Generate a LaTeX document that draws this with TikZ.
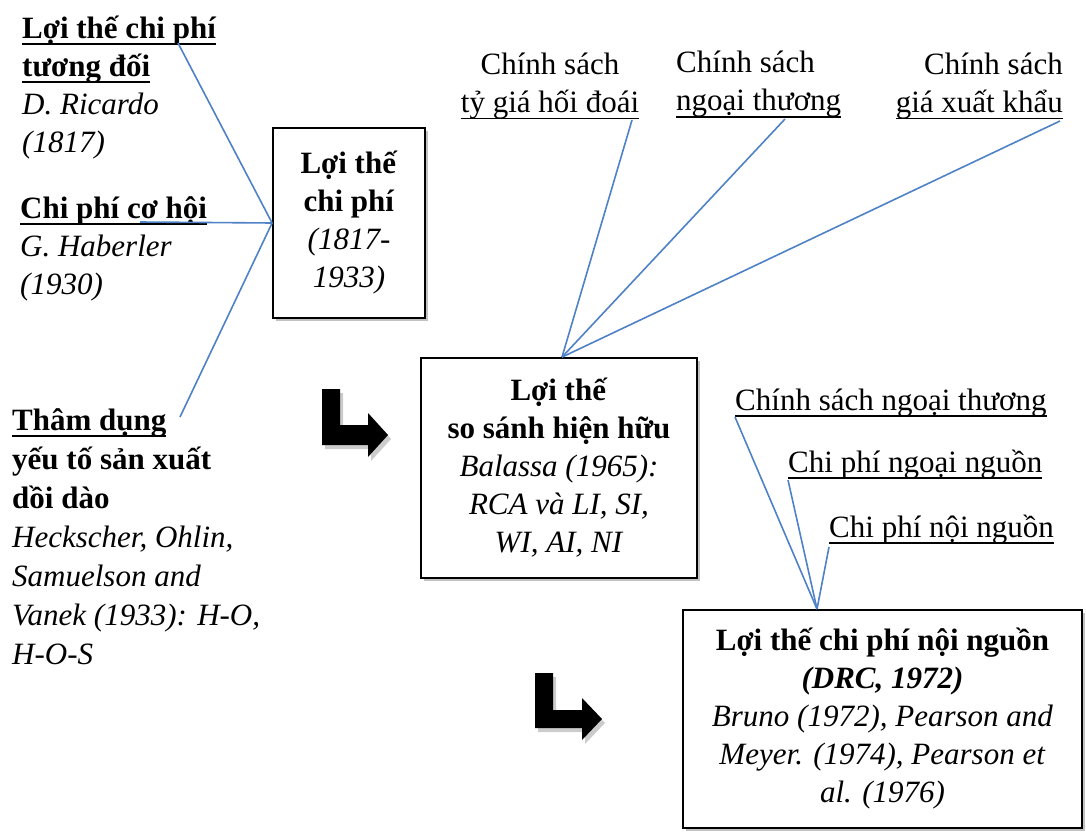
\documentclass[tikz,border=0pt]{standalone}
\usepackage{fontspec}
\setmainfont{Liberation Serif}
\newsavebox\ulbox
\newcommand\myul[1]{\sbox\ulbox{#1}\rlap{\rule[-6.5pt]{\wd\ulbox}{1.6pt}}\usebox\ulbox}
\usetikzlibrary{shadows}
\definecolor{conncol}{RGB}{79,129,199}
\begin{document}
\begin{tikzpicture}[x=1pt,y=-1pt,
  txt/.style={inner sep=0pt, font=\fontsize{31}{38}\selectfont},
  box/.style={draw=black, line width=1.8pt, fill=white, align=center, inner sep=0pt,
    font=\fontsize{31}{38}\selectfont,
    drop shadow={shadow xshift=3pt, shadow yshift=-3pt, fill=black!40, opacity=0.6}},
  conn/.style={draw=conncol, line width=1.6pt},
  bigarrow/.style={fill=black, drop shadow={shadow xshift=3pt, shadow yshift=-4pt, fill=black!40, opacity=0.5}}]
\useasboundingbox (0,0) rectangle (1086,832);

% left texts (anchor = baseline of last line)
\node[txt, anchor=base west, align=left] (A1) at (22,152)
  {\textbf{\myul{Lợi thế chi phí}}\\\textbf{\myul{tương đối}}\\\textit{D. Ricardo}\\\textit{(1817)}};
\node[txt, anchor=base west, align=left] (A2) at (20,294)
  {\textbf{\myul{Chi phí cơ hội}}\\\textit{G. Haberler}\\\textit{(1930)}};
\node[txt, anchor=base west, align=left, font=\fontsize{31}{39}\selectfont] (A3) at (12,664)
  {\textbf{\myul{Thâm dụng}}\\\textbf{yếu tố sản xuất}\\\textbf{dồi dào}\\\textit{Heckscher, Ohlin,}\\\textit{Samuelson and}\\\textit{Vanek (1933): H-O,}\\\textit{H-O-S}};

% boxes
\node[box, minimum width=152pt, minimum height=190pt] (B) at (349,223)
  {\textbf{Lợi thế}\\\textbf{chi phí}\\\textit{(1817-}\\\textit{1933)}};
\node[box, minimum width=276pt, minimum height=220pt] (C) at (559,468)
  {\textbf{Lợi thế}\\\textbf{so sánh hiện hữu}\\\textit{Balassa (1965):}\\\textit{RCA và LI, SI,}\\\textit{WI, AI, NI}};
\node[box, minimum width=399pt, minimum height=218pt] (D) at (882.5,719)
  {\textbf{Lợi thế chi phí nội nguồn}\\\textbf{\textit{(DRC, 1972)}}\\\textit{Bruno (1972), Pearson and}\\\textit{Meyer. (1974), Pearson et}\\\textit{al. (1976)}};

% top texts
\node[txt, anchor=base, align=center] (T1) at (550,113) {Chính sách\\\myul{tỷ giá hối đoái}};
\node[txt, anchor=base west, align=left] (T2) at (676,111) {Chính sách\\\myul{ngoại thương}};
\node[txt, anchor=base east, align=right] (T3) at (1063,113) {Chính sách\\\myul{giá xuất khẩu}};

% right texts
\node[txt, anchor=base west] (R1) at (735,410) {\myul{Chính sách ngoại thương}};
\node[txt, anchor=base west] (R2) at (788,472) {\myul{Chi phí ngoại nguồn}};
\node[txt, anchor=base west] (R3) at (829,537) {\myul{Chi phí nội nguồn}};

% connector ends
\coordinate (a1) at (178,43);
\coordinate (a2) at (140,222);
\coordinate (a3) at (180,417);
\coordinate (t1) at (632,120);
\coordinate (t2) at (785,119);
\coordinate (t3) at (1060,121);
\coordinate (r1) at (735,417);
\coordinate (r2) at (788,480);
\coordinate (r3) at (829,547);
\coordinate (ctop) at ([xshift=3pt]C.north);
\coordinate (dtop) at ([xshift=-65.5pt]D.north);

\draw[conn] (a1) -- (B.west);
\draw[conn] (a2) -- (B.west);
\draw[conn] (a3) -- (B.west);
\draw[conn] (t1) -- (ctop);
\draw[conn] (t2) -- (ctop);
\draw[conn] (t3) -- (ctop);
\draw[conn] (r1) -- (dtop);
\draw[conn] (r2) -- (dtop);
\draw[conn] (r3) -- (dtop);

% black bent arrows
\fill[bigarrow] (322,389) -- (340,389) -- (340,425) -- (368,425) -- (368,413) -- (388,435)
  -- (368,457) -- (368,445) -- (322,445) -- cycle;
\fill[bigarrow] (535,673) -- (553,673) -- (553,710) -- (582,710) -- (582,698) -- (602,719)
  -- (582,740) -- (582,728) -- (535,728) -- cycle;
\end{tikzpicture}
\end{document}
